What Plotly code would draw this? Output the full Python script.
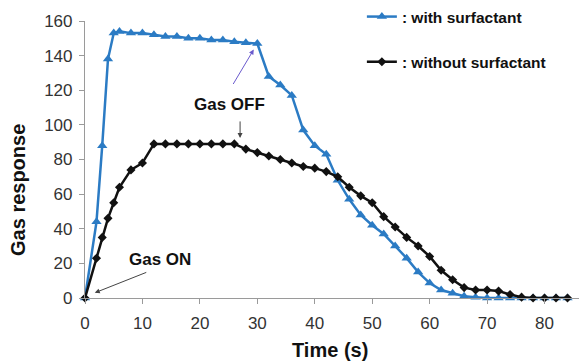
import plotly.graph_objects as go

# Gas response vs time, with and without surfactant
time_with = [0, 2, 3, 4, 5, 6, 8, 10, 12, 14, 16, 18, 20, 22, 24, 26, 28, 30,
             32, 34, 36, 38, 40, 42, 44, 46, 48, 50, 52, 54, 56, 58, 60, 62,
             64, 66, 68, 70, 72, 74, 76, 78, 80, 82, 84]
resp_with = [0, 44, 88, 138, 153, 154, 153, 153, 152, 151, 151, 150, 150, 149,
             149, 148, 147.5, 147, 128, 123, 117, 97, 88, 83, 68, 57, 48, 42,
             37, 30, 23, 15, 8.6, 4.6, 2.8, 1, 0.5, 0, 0, 0, 0, 0, 0, 0, 0]

time_without = [0, 2, 3, 4, 5, 6, 8, 10, 12, 14, 16, 18, 20, 22, 24, 26, 28,
                30, 32, 34, 36, 38, 40, 42, 44, 46, 48, 50, 52, 54, 56, 58, 60,
                62, 64, 66, 68, 70, 72, 74, 76, 78, 80, 82, 84]
resp_without = [0, 23, 35, 46, 55, 64, 74, 78, 89, 89, 89, 89, 89, 89, 89, 89,
                86, 84, 82, 80, 78, 76, 75, 73, 70, 64, 59, 55, 47, 41, 35, 30,
                24, 16, 10.5, 6, 4.6, 4.6, 4, 2, 0.5, 0, 0, 0, 0]

x_ticks = [0, 10, 20, 30, 40, 50, 60, 70, 80]
y_ticks = [0, 20, 40, 60, 80, 100, 120, 140, 160]

BLUE = "#2b7bc4"
FONT = "Liberation Sans"

fig = go.Figure()
fig.add_trace(go.Scatter(
    x=time_with, y=resp_with, mode="lines+markers", name=": with surfactant",
    line=dict(color=BLUE, width=2.5),
    marker=dict(symbol="triangle-up", size=9, color=BLUE),
    cliponaxis=False, legendgroup="a",
))
fig.add_trace(go.Scatter(
    x=time_without, y=resp_without, mode="lines+markers",
    name=": without surfactant",
    line=dict(color="#111111", width=2.5),
    marker=dict(symbol="diamond", size=7, color="#111111"),
    cliponaxis=False, legendgroup="b",
))

axis_common = dict(
    showgrid=False, zeroline=False, showline=True, linecolor="#9a9a9a",
    linewidth=1.2, ticks="outside", tickcolor="#9a9a9a", ticklen=5,
    tickfont=dict(family=FONT, size=17, color="#333333"),
)

fig.update_layout(
    width=579, height=361,
    margin=dict(l=85, r=0, t=21, b=63, autoexpand=False),
    paper_bgcolor="white", plot_bgcolor="white",
    font=dict(family=FONT),
    xaxis=dict(range=[0, 86], tickvals=x_ticks, ticklabelstandoff=4,
               **axis_common),
    yaxis=dict(range=[0, 160], tickvals=y_ticks, ticklabelstandoff=3,
               **axis_common),
    legend=dict(
        xref="container", yref="container", x=0.625, y=1.0,
        xanchor="left", yanchor="top", tracegroupgap=22,
        font=dict(family=FONT, size=15.5, color="#111111", weight="bold"),
        bgcolor="rgba(0,0,0,0)",
    ),
    showlegend=True,
)

# axis titles
fig.add_annotation(xref="paper", yref="paper", x=0.496, y=-0.188,
                   text="<b>Time (s)</b>", showarrow=False,
                   xanchor="center", yanchor="middle",
                   font=dict(family=FONT, size=20, color="#111111"))
fig.add_annotation(xref="paper", yref="paper", x=-0.1356, y=0.39,
                   text="<b>Gas response</b>", showarrow=False, textangle=-90,
                   xanchor="center", yanchor="middle",
                   font=dict(family=FONT, size=20, color="#111111"))

fig.add_annotation(x=25.2, y=111.5, text="<b>Gas OFF</b>", showarrow=False,
                   font=dict(family=FONT, size=17, color="#111111"))
fig.add_annotation(x=13, y=22, text="<b>Gas ON</b>", showarrow=False,
                   font=dict(family=FONT, size=17, color="#111111"))
# arrows
fig.add_annotation(x=30, y=147, ax=-25, ay=42, text="", showarrow=True,
                   arrowhead=2, arrowsize=1, arrowwidth=1, standoff=7,
                   arrowcolor="#6a5acd")
fig.add_annotation(x=27, y=89, ax=0, ay=-24, text="", showarrow=True,
                   arrowhead=2, arrowsize=1, arrowwidth=1, standoff=6,
                   arrowcolor="#444444")
fig.add_annotation(x=1.7, y=3, ax=53, ay=-21, text="", showarrow=True,
                   arrowhead=2, arrowsize=1, arrowwidth=1, standoff=0,
                   arrowcolor="#444444")

fig.write_html("out.html")
